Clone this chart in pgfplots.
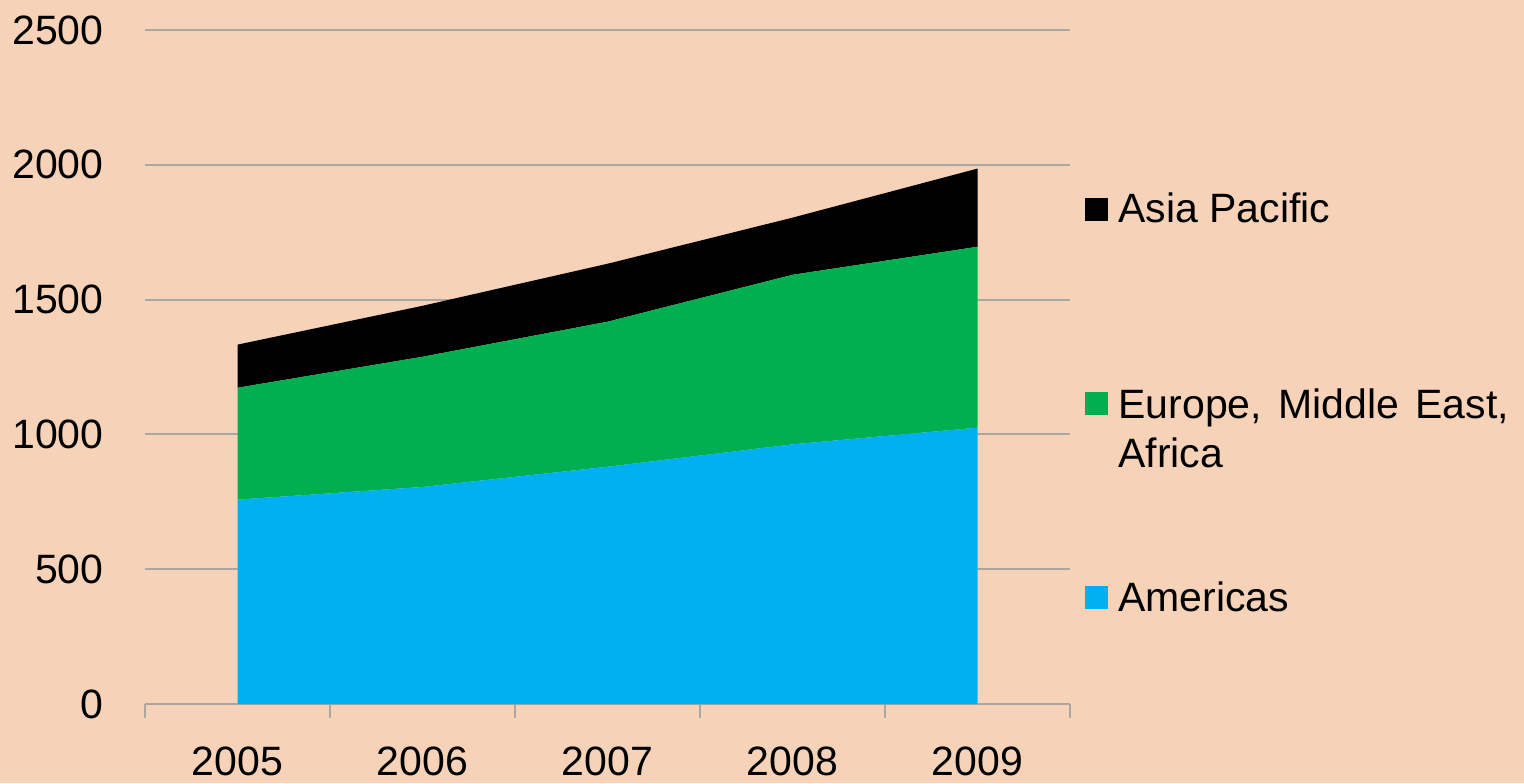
\documentclass[border=0pt]{standalone}
\usepackage{fontspec}
\setmainfont{Liberation Sans}
\usepackage{pgfplots}
\pgfplotsset{compat=1.18}
\definecolor{bg}{RGB}{246,211,184}
\definecolor{amer}{RGB}{0,176,240}
\definecolor{emea}{RGB}{0,176,80}
\definecolor{gridc}{RGB}{172,166,160}
\newcommand\bigfont{\fontsize{20.5}{24}\selectfont}
\begin{document}
\begin{tikzpicture}
\fill[bg, use as bounding box] (0,0) rectangle (762pt,391.5pt);
\begin{axis}[
  at={(72.5pt,39.5pt)}, anchor=south west,
  scale only axis, width=462.5pt, height=337pt,
  xmin=-0.5, xmax=4.5, ymin=0, ymax=2500,
  stack plots=y,
  axis x line*=bottom, axis y line*=left,
  y axis line style={draw=none},
  x axis line style={draw=gridc, line width=1pt, -},
  ytick={0,500,...,2500},
  ytick style={draw=none},
  ymajorgrids, grid style={draw=gridc, line width=1pt},
  major tick length=0pt,
  xtick={0,1,2,3,4},
  xticklabels={2005,2006,2007,2008,2009},
  xtick style={draw=none},
  extra x ticks={-0.5,0.5,1.5,2.5,3.5,4.5},
  extra x tick labels={},
  extra x tick style={tick align=outside, major tick length=7pt,
     xtick style={draw=gridc, line width=1pt}, grid=none},
  tick label style={font=\bigfont},
  /pgf/number format/assume math mode=true,
  /pgf/number format/set thousands separator={},
  yticklabel style={anchor=east, inner sep=0pt, xshift=-20.5pt},
  xticklabel style={anchor=north, inner sep=0pt, yshift=-21pt},
]
% Americas
\addplot[fill=amer, draw=none] coordinates {(0,758) (1,805) (2,880) (3,963) (4,1025)} \closedcycle;
% Europe, Middle East, Africa
\addplot[fill=emea, draw=none] coordinates {(0,415) (1,483) (2,538) (3,629) (4,671)} \closedcycle;
% Asia Pacific
\addplot[fill=black, draw=none] coordinates {(0,160) (1,189) (2,215) (3,212) (4,290)} \closedcycle;
\end{axis}
% legend
\fill[black] (542.5pt,280.75pt) rectangle (554pt,292.25pt);
\node[anchor=base west, inner sep=0pt, font=\bigfont] at (559pt,280pt) {Asia Pacific};
\fill[emea] (542.5pt,184.25pt) rectangle (554pt,195.75pt);
\node[anchor=base west, inner sep=0pt, font=\bigfont] at (559pt,182.5pt) {Europe,\hspace{8.2pt}Middle\hspace{8.2pt}East,};
\node[anchor=base west, inner sep=0pt, font=\bigfont] at (559pt,158pt) {Africa};
\fill[amer] (542.5pt,87pt) rectangle (554pt,98.5pt);
\node[anchor=base west, inner sep=0pt, font=\bigfont] at (559pt,86pt) {Americas};
\end{tikzpicture}
\end{document}
